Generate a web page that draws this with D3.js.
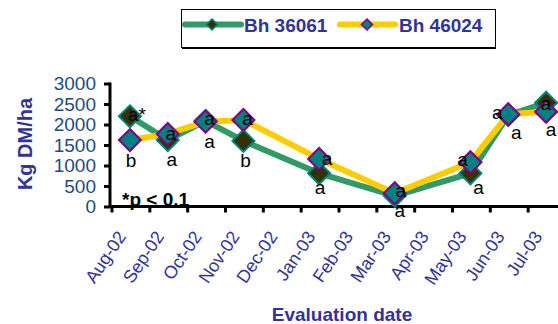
<!DOCTYPE html>
<html>
<head>
<meta charset="utf-8">
<script src="https://cdn.jsdelivr.net/npm/d3@7"></script>
<style>
  html, body { margin: 0; padding: 0; background: #fff; }
  svg { display: block; }
  text { font-family: Arial, "Liberation Sans", sans-serif; }
</style>
</head>
<body>
<svg id="chart" width="558" height="324"></svg>
<script>
// Evaluation months (category axis)
const months = ["Aug-02", "Sep-02", "Oct-02", "Nov-02", "Dec-02", "Jan-03",
                "Feb-03", "Mar-03", "Apr-03", "May-03", "Jun-03", "Jul-03"];
// Forage yield, Kg DM/ha (null = not evaluated that month)
const bh36061 = [2200, 1620, 2090, 1600, null, 810, null, 260, null, 810, 2230, 2530];
const bh46024 = [1620, 1770, 2070, 2110, null, 1160, null, 325, null, 1080, 2250, 2310];
// Mean separation letters per month
const letters36061 = ["a*", "a", "a", "b", null, "a", null, "a", null, "a", "a", "a"];
const letters46024 = ["b", "a", "a", "a", null, "a", null, "a", null, "a", "a", "a"];
const yTicks = [0, 500, 1000, 1500, 2000, 2500, 3000];
const seriesNames = ["Bh 36061", "Bh 46024"];

// Letter placement relative to each marker: [dx, dy, anchor]
const offsets36061 = [[-2, 5, "start"], [4, 26, "middle"], [4, 27, "middle"], [2, 26, "middle"], null,
                      [1, 21, "middle"], null, [5, 21, "middle"], null, [8, 21, "middle"],
                      [8, 24, "middle"], [0, 7, "middle"]];
const offsets46024 = [[1, 27, "middle"], [3, 6, "middle"], [4, 3, "middle"], [4, 5, "middle"], null,
                      [8, 6, "middle"], null, [6, 4, "middle"], null, [-8, 4, "middle"],
                      [-11, 5, "middle"], [5, 24, "middle"]];

const svg = d3.select("#chart");
const navy = "#333399";

const x = d3.scaleBand().domain(months).range([111, 565]);
const y = d3.scaleLinear().domain([0, 3000]).range([206.5, 83.5]);

const styles = [
  { line: "#339966", fill: "#333300", stroke: "#008080" },
  { line: "#ffcc00", fill: "#008080", stroke: "#800080" }
];

function diamond(r) {
  return `M0,${-r}L${r},0L0,${r}L${-r},0Z`;
}

// significance note at bottom-left of the plot
svg.append("text")
  .attr("x", 122).attr("y", 206)
  .attr("font-size", 19).attr("font-weight", "bold").attr("fill", "#000")
  .text("*p < 0.1");

// series lines (gaps bridged)
const seriesData = [bh36061, bh46024].map(vals =>
  months.map((m, i) => ({ m, v: vals[i], i })).filter(d => d.v !== null));

const line = d3.line()
  .x(d => x(d.m) + x.bandwidth() / 2)
  .y(d => y(d.v));

seriesData.forEach((pts, s) => {
  svg.append("path")
    .datum(pts)
    .attr("d", line)
    .attr("fill", "none")
    .attr("stroke", styles[s].line)
    .attr("stroke-width", 6)
    .attr("stroke-linejoin", "round");
});

// axes
const yAxis = svg.append("g")
  .attr("transform", "translate(110,0)")
  .call(d3.axisLeft(y).tickValues(yTicks).tickSize(6).tickPadding(8).tickFormat(d3.format("d")));
yAxis.select(".domain").attr("stroke", "#000").attr("stroke-width", 3)
  .attr("d", `M0,${y(3000) - 1}V${y(0)}`);
yAxis.selectAll(".tick line").attr("stroke", "#000").attr("stroke-width", 3);
yAxis.selectAll(".tick text").attr("font-size", 19).attr("fill", "#1f4b7c")
  .attr("font-family", "Arial, 'Liberation Sans', sans-serif");

const xAxisG = svg.append("g").attr("transform", `translate(0,${y(0)})`);
xAxisG.append("line")
  .attr("x1", 109).attr("x2", 560).attr("y1", 0).attr("y2", 0)
  .attr("stroke", "#000").attr("stroke-width", 3);
xAxisG.selectAll("line.tk")
  .data(months)
  .join("line")
  .attr("class", "tk")
  .attr("x1", d => x(d) + 1).attr("x2", d => x(d) + 1)
  .attr("y1", 0).attr("y2", 6)
  .attr("stroke", "#000").attr("stroke-width", 3);
xAxisG.selectAll("text.lbl")
  .data(months)
  .join("text")
  .attr("class", "lbl")
  .attr("transform", d => `translate(${x(d) + x.bandwidth() / 2 - 3},${30}) rotate(-56)`)
  .attr("text-anchor", "end")
  .attr("font-size", 18)
  .attr("fill", navy)
  .text(d => d);

// markers
seriesData.forEach((pts, s) => {
  svg.append("g").selectAll("path")
    .data(pts)
    .join("path")
    .attr("transform", d => `translate(${x(d.m) + x.bandwidth() / 2},${y(d.v)})`)
    .attr("d", diamond(11))
    .attr("fill", styles[s].fill)
    .attr("stroke", styles[s].stroke)
    .attr("stroke-width", 2);
});

// mean separation letters
[[bh36061, letters36061, offsets36061], [bh46024, letters46024, offsets46024]].forEach(([vals, lets, offs]) => {
  const items = months.map((m, i) => ({ m, v: vals[i], t: lets[i], o: offs[i] }))
    .filter(d => d.v !== null && d.t);
  svg.append("g").selectAll("text")
    .data(items)
    .join("text")
    .attr("x", d => x(d.m) + x.bandwidth() / 2 + d.o[0])
    .attr("y", d => y(d.v) + d.o[1])
    .attr("text-anchor", d => d.o[2])
    .attr("font-size", 19)
    .attr("fill", "#000")
    .text(d => d.t);
});

// axis titles
svg.append("text")
  .attr("transform", "translate(32,144) rotate(-90)")
  .attr("text-anchor", "middle")
  .attr("font-size", 20).attr("font-weight", "bold").attr("fill", navy)
  .text("Kg DM/ha");

svg.append("text")
  .attr("x", 342).attr("y", 321)
  .attr("text-anchor", "middle")
  .attr("font-size", 19).attr("font-weight", "bold").attr("fill", navy)
  .text("Evaluation date");

// legend
const legend = svg.append("g");
legend.append("rect")
  .attr("x", 181.5).attr("y", 9.5).attr("width", 314).attr("height", 38)
  .attr("fill", "#fff").attr("stroke", "#000").attr("stroke-width", 1);
legend.append("line")
  .attr("x1", 182).attr("x2", 496).attr("y1", 48.5).attr("y2", 48.5)
  .attr("stroke", "#000").attr("stroke-width", 1);
const legendItems = [
  { x0: 185, x1: 241, mx: 212, tx: 244 },
  { x0: 340, x1: 395, mx: 367, tx: 399 }
];
legendItems.forEach((it, s) => {
  legend.append("line")
    .attr("x1", it.x0).attr("x2", it.x1).attr("y1", 24.5).attr("y2", 24.5)
    .attr("stroke", styles[s].line).attr("stroke-width", 6).attr("stroke-linecap", "round");
  legend.append("path")
    .attr("transform", `translate(${it.mx},24.5)`)
    .attr("d", diamond(5.5))
    .attr("fill", styles[s].fill).attr("stroke", styles[s].stroke).attr("stroke-width", 1.5);
  legend.append("text")
    .attr("x", it.tx).attr("y", 32)
    .attr("font-size", 19).attr("font-weight", "bold").attr("fill", navy)
    .text(seriesNames[s]);
});
</script>
</body>
</html>
